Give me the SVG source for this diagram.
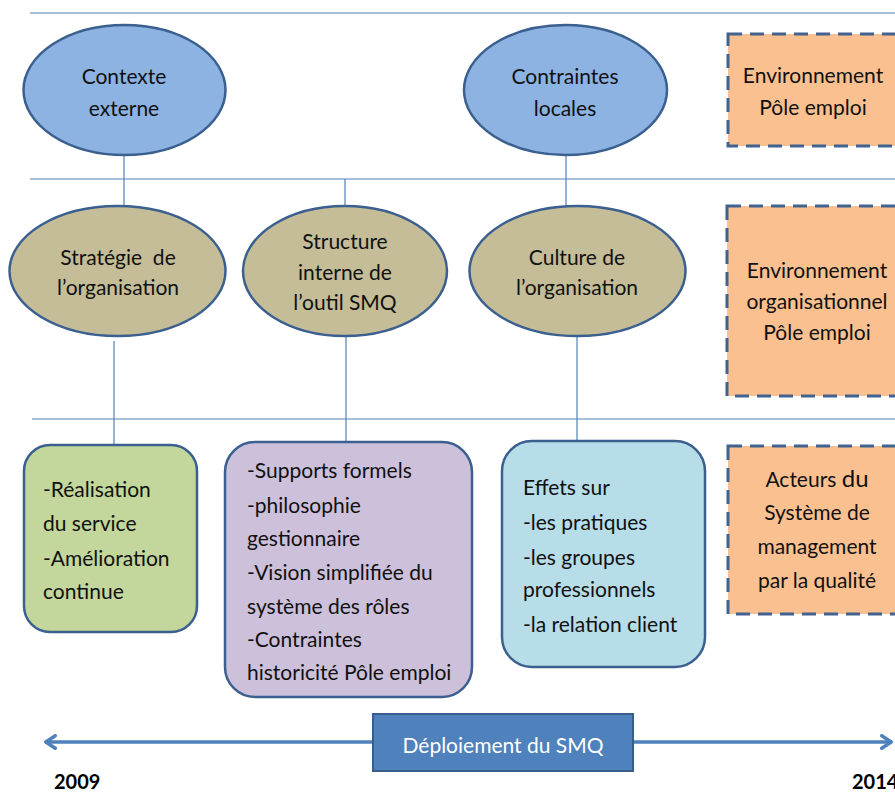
<svg xmlns="http://www.w3.org/2000/svg" width="895" height="793" viewBox="0 0 895 793">
  <style>
    .t { font-family: Lato, "Liberation Sans", sans-serif; font-size: 21px; fill: #111; }
    .c { text-anchor: middle; }
    .w { fill: #ffffff; }
    .y { font-weight: bold; font-size: 20px; fill: #000; }
    .ell-blue { fill: #8db3e2; stroke: #3b5f8e; stroke-width: 2.5; }
    .ell-khaki { fill: #c4bd97; stroke: #3b5f8e; stroke-width: 2.5; }
    .dash { fill: #fac090; stroke: #41628f; stroke-width: 3; stroke-dasharray: 14 8; }
    .sep { stroke: #4f81bd; stroke-width: 1.2; fill: none; }
    .link { stroke: #4f81bd; stroke-width: 1.2; fill: none; }
    .box { stroke: #3b5f8e; stroke-width: 2.5; }
  </style>
  <defs>
    <marker id="chev" viewBox="0 0 10 10" refX="8.5" refY="5" markerWidth="4.5" markerHeight="4.5" orient="auto-start-reverse" markerUnits="strokeWidth">
      <path d="M 2 1 L 8 5 L 2 9" fill="none" stroke="#4f81bd" stroke-width="2.2" stroke-linecap="round" stroke-linejoin="round"/>
    </marker>
  </defs>
  <rect width="895" height="793" fill="#ffffff"/>

  <g id="separators">
    <line class="sep" x1="30" y1="13" x2="895" y2="13"/>
    <line class="sep" x1="30" y1="179" x2="895" y2="179"/>
    <line class="sep" x1="32" y1="419" x2="895" y2="419"/>
  </g>

  <g id="connectors">
    <line class="link" x1="124" y1="155" x2="124" y2="206"/>
    <line class="link" x1="566" y1="155" x2="566" y2="206"/>
    <line class="link" x1="345" y1="179" x2="345" y2="206"/>
    <line class="link" x1="114" y1="341" x2="114" y2="446"/>
    <line class="link" x1="346" y1="336" x2="346" y2="441"/>
    <line class="link" x1="577" y1="336" x2="577" y2="441"/>
  </g>

  <g id="contexte-externe">
    <ellipse class="ell-blue" cx="124.5" cy="90" rx="101" ry="65"/>
    <text class="t c" x="124" y="84">Contexte</text>
    <text class="t c" x="124" y="116">externe</text>
  </g>

  <g id="contraintes-locales">
    <ellipse class="ell-blue" cx="565.5" cy="90" rx="101.5" ry="65"/>
    <text class="t c" x="565" y="84">Contraintes</text>
    <text class="t c" x="565" y="116">locales</text>
  </g>

  <g id="env-pole-emploi">
    <rect class="dash" x="728" y="34" width="180" height="112"/>
    <text class="t c" x="813" y="83">Environnement</text>
    <text class="t c" x="813" y="115">Pôle emploi</text>
  </g>

  <g id="strategie">
    <ellipse class="ell-khaki" cx="117.5" cy="271" rx="108" ry="65"/>
    <text class="t c" x="118" y="265" xml:space="preserve">Stratégie  de</text>
    <text class="t c" x="118" y="295">l’organisation</text>
  </g>

  <g id="structure">
    <ellipse class="ell-khaki" cx="345" cy="271" rx="102" ry="65"/>
    <text class="t c" x="345" y="249">Structure</text>
    <text class="t c" x="345" y="280">interne de</text>
    <text class="t c" x="345" y="310">l’outil SMQ</text>
  </g>

  <g id="culture">
    <ellipse class="ell-khaki" cx="577.5" cy="271" rx="108" ry="65"/>
    <text class="t c" x="577" y="265">Culture de</text>
    <text class="t c" x="577" y="295">l’organisation</text>
  </g>

  <g id="env-organisationnel">
    <rect class="dash" x="727" y="206" width="180" height="190"/>
    <text class="t c" x="817" y="278">Environnement</text>
    <text class="t c" x="817" y="309">organisationnel</text>
    <text class="t c" x="817" y="340">Pôle emploi</text>
  </g>

  <g id="realisation">
    <rect class="box" x="24" y="445" width="173" height="187" rx="26" fill="#c3d69b"/>
    <text class="t" x="43" y="497">-Réalisation</text>
    <text class="t" x="43" y="531">du service</text>
    <text class="t" x="43" y="566">-Amélioration</text>
    <text class="t" x="43" y="599">continue</text>
  </g>

  <g id="supports">
    <rect class="box" x="225" y="442" width="247" height="255" rx="30" fill="#ccc0da"/>
    <text class="t" x="247" y="478">-Supports formels</text>
    <text class="t" x="247" y="513">-philosophie</text>
    <text class="t" x="247" y="546">gestionnaire</text>
    <text class="t" x="247" y="580">-Vision simplifiée du</text>
    <text class="t" x="247" y="614">système des rôles</text>
    <text class="t" x="247" y="647">-Contraintes</text>
    <text class="t" x="247" y="680">historicité Pôle emploi</text>
  </g>

  <g id="effets">
    <rect class="box" x="502" y="441" width="203" height="226" rx="30" fill="#b7dde8"/>
    <text class="t" x="523" y="495">Effets sur</text>
    <text class="t" x="523" y="530">-les pratiques</text>
    <text class="t" x="523" y="565">-les groupes</text>
    <text class="t" x="523" y="597">professionnels</text>
    <text class="t" x="523" y="632">-la relation client</text>
  </g>

  <g id="acteurs">
    <rect class="dash" x="728" y="446" width="180" height="168"/>
    <text class="t c" x="817" y="487">Acteurs <tspan font-size="24">du</tspan></text>
    <text class="t c" x="817" y="520">Système de</text>
    <text class="t c" x="817" y="554">management</text>
    <text class="t c" x="817" y="588">par la qualité</text>
  </g>

  <g id="timeline">
    <line x1="45" y1="742" x2="892" y2="742" stroke="#4f81bd" stroke-width="3.5" marker-start="url(#chev)" marker-end="url(#chev)"/>
  </g>

  <g id="deploiement">
    <rect x="373" y="714" width="260" height="57" fill="#4f81bd" stroke="#385d8a" stroke-width="2"/>
    <text class="t c w" x="503" y="753">Déploiement du SMQ</text>
  </g>

  <g id="years">
    <text class="t y" x="54" y="789">2009</text>
    <text class="t y" x="852" y="789">2014</text>
  </g>
</svg>
